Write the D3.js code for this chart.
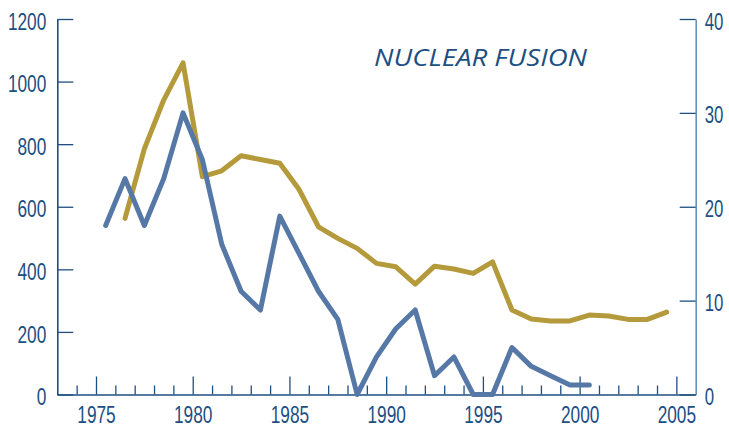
<!DOCTYPE html>
<html>
<head>
<meta charset="utf-8">
<script src="https://cdn.jsdelivr.net/npm/d3@7"></script>
<style>
  html, body { margin: 0; padding: 0; background: #ffffff; }
  svg { display: block; }
</style>
</head>
<body>
<div id="chart"></div>
<script>
// ---- data ----
const blueYears = [1975,1976,1977,1978,1979,1980,1981,1982,1983,1984,1985,1986,1987,1988,1989,1990,1991,1992,1993,1994,1995,1996,1997,1998,1999,2000];
const blueValues = [18,23,18,23,30,25,16,11,9,19,15,11,8,0,4,7,9,2,4,0,0,5,3,2,1,1];
const goldYears = [1976,1977,1978,1979,1980,1981,1982,1983,1984,1985,1986,1987,1988,1989,1990,1991,1992,1993,1994,1995,1996,1997,1998,1999,2000,2001,2002,2003,2004];
const goldValues = [563,785,941,1060,696,715,763,751,739,655,536,499,467,419,408,353,410,401,387,424,270,241,235,235,254,251,240,240,263];
const xMajorTicks = [1975,1980,1985,1990,1995,2000,2005];
const xMinorTicks = [1974,1976,1977,1978,1979,1981,1982,1983,1984,1986,1987,1988,1989,1991,1992,1993,1994,1996,1997,1998,1999,2001,2002,2003,2004];
const leftTicks = [0,200,400,600,800,1000,1200];
const rightTicks = [0,10,20,30,40];
const titleText = "NUCLEAR FUSION";

// ---- layout ----
const W = 729, H = 431;
const mLeft = 57.3, mRight = 695.7, mTop = 19, mBottom = 394.5;
const axisColor = "#1d4f82";
const rightAxisColor = "#6a8fba";
const textColor = "#1d4f82";
const goldColor = "#b49a3b";
const blueColor = "#5678a6";
const tickFont = "'Liberation Sans', Arial, sans-serif";

const svg = d3.select("#chart").append("svg").attr("width", W).attr("height", H);

const x = d3.scaleLinear().domain([1973, 2006]).range([mLeft, mRight]);
const yL = d3.scaleLinear().domain([0, 1200]).range([mBottom, mTop]);
const yR = d3.scaleLinear().domain([0, 40]).range([mBottom, mTop]);

// condensed look: horizontally scale each label
function styleLabels(sel, anchor, sx) {
  sel.selectAll("text").each(function() {
    const t = d3.select(this);
    const x0 = +t.attr("x") || 0;
    t.attr("fill", textColor)
      .style("font-family", tickFont)
      .style("font-size", "24px")
      .attr("text-anchor", anchor)
      .attr("x", x0 / sx)
      .attr("transform", `scale(${sx},1)`);
  });
}

// minor x ticks
const gMinor = svg.append("g").attr("transform", `translate(0,${mBottom})`)
  .call(d3.axisBottom(x).tickValues(xMinorTicks).tickSize(-9).tickSizeOuter(0).tickFormat(""));
gMinor.select(".domain").remove();
gMinor.selectAll("line").attr("stroke", axisColor).attr("stroke-width", 1.3);

// major x ticks
const gX = svg.append("g").attr("transform", `translate(0,${mBottom})`)
  .call(d3.axisBottom(x).tickValues(xMajorTicks).tickSize(-18).tickSizeOuter(0).tickFormat(d3.format("d")));
gX.select(".domain").attr("stroke", axisColor).attr("stroke-width", 1.6);
gX.selectAll("line").attr("stroke", axisColor).attr("stroke-width", 1.3);
styleLabels(gX, "middle", 0.72);
gX.selectAll("text").attr("y", 29).attr("dy", null);

// left axis
const gL = svg.append("g").attr("transform", `translate(${mLeft},0)`)
  .call(d3.axisLeft(yL).tickValues(leftTicks).tickSize(-16).tickSizeOuter(0).tickPadding(11).tickFormat(d3.format("d")));
gL.select(".domain").attr("stroke", axisColor).attr("stroke-width", 1.6);
gL.selectAll("line").attr("stroke", axisColor).attr("stroke-width", 1.3);
styleLabels(gL, "end", 0.72);
gL.selectAll("text").attr("dy", "0.42em");

// right axis
const gR = svg.append("g").attr("transform", `translate(${mRight},0)`)
  .call(d3.axisRight(yR).tickValues(rightTicks).tickSize(-16).tickSizeOuter(0).tickPadding(9).tickFormat(d3.format("d")));
gR.select(".domain").attr("stroke", rightAxisColor).attr("stroke-width", 1.6);
gR.selectAll("line").attr("stroke", axisColor).attr("stroke-width", 1.3);
styleLabels(gR, "start", 0.7);
gR.selectAll("text").attr("dy", "0.42em");

// lines (points at mid-year)
const goldData = goldYears.map((yr, i) => ({ x: yr + 0.5, v: goldValues[i] }));
const blueData = blueYears.map((yr, i) => ({ x: yr + 0.5, v: blueValues[i] }));

svg.append("path").datum(goldData)
  .attr("fill", "none").attr("stroke", goldColor).attr("stroke-width", 5)
  .attr("stroke-linejoin", "round").attr("stroke-linecap", "round")
  .attr("d", d3.line().x(d => x(d.x)).y(d => yL(d.v)));

svg.append("path").datum(blueData)
  .attr("fill", "none").attr("stroke", blueColor).attr("stroke-width", 5)
  .attr("stroke-linejoin", "round").attr("stroke-linecap", "round")
  .attr("d", d3.line().x(d => x(d.x)).y(d => yR(d.v)));

// title
svg.append("text")
  .attr("x", 374).attr("y", 65.5)
  .attr("fill", textColor)
  .style("font-family", "'Open Sans', sans-serif")
  .style("font-style", "italic")
  .style("font-size", "24px")
  .attr("textLength", 213)
  .attr("lengthAdjust", "spacingAndGlyphs")
  .text(titleText);
</script>
</body>
</html>
